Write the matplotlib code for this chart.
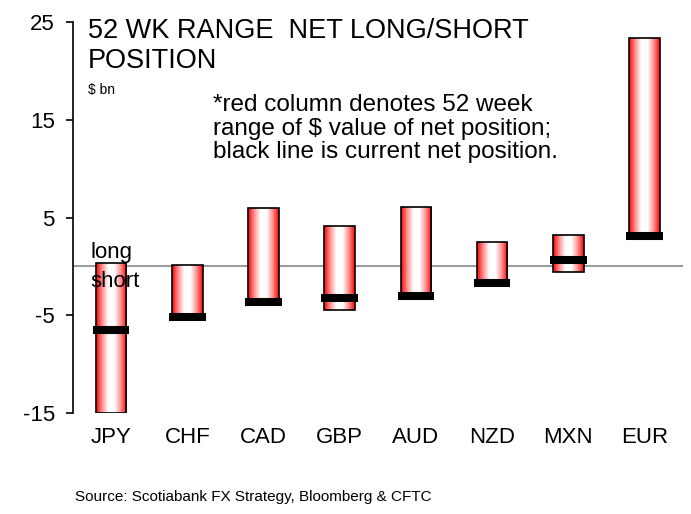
import matplotlib
matplotlib.use('Agg')
import matplotlib.pyplot as plt
import numpy as np
from matplotlib.colors import LinearSegmentedColormap

plt.rcParams['font.family'] = ['Liberation Sans', 'DejaVu Sans']

# data ($ bn)
currencies = ['JPY', 'CHF', 'CAD', 'GBP', 'AUD', 'NZD', 'MXN', 'EUR']
range_high = [0.4, 0.1, 6.0, 4.1, 6.1, 2.5, 3.2, 23.4]
range_low = [-15.0, -5.3, -3.8, -4.5, -3.1, -1.7, -0.6, 3.1]
current = [-6.5, -5.2, -3.6, -3.2, -3.0, -1.7, 0.7, 3.1]

fig = plt.figure(figsize=(6.91, 5.14), dpi=100)
ax = fig.add_axes([0.1056, 0.1965, 0.8824, 0.7605])

x = np.arange(len(currencies))
width = 0.4

# red - white - red gradient for the range columns
cmap = LinearSegmentedColormap.from_list('rwr', ['#ff0000', '#ff9090', '#ffffff', '#ffffff',
                                                 '#ff9090', '#ff0000'])
grad = np.linspace(0, 1, 256).reshape(1, -1)

bars = ax.bar(x, np.array(range_high) - np.array(range_low), width, bottom=range_low,
              facecolor='none', edgecolor='black', linewidth=1.2, zorder=3)
for b in bars:
    x0, y0 = b.get_x(), b.get_y()
    im = ax.imshow(grad, cmap=cmap, aspect='auto', zorder=2,
                   extent=(x0, x0 + b.get_width(), y0, y0 + b.get_height()))
    im.set_clip_path(b)

# current net position
ax.hlines(current, x - 0.24, x + 0.24, colors='black', linewidth=5.8, zorder=4)

ax.axhline(0, color='#888888', linewidth=1.2, zorder=1)

ax.set_xlim(-0.5, len(currencies) - 0.5)
ax.set_ylim(-15, 25)
ax.set_yticks([-15, -5, 5, 15, 25])
ax.set_yticklabels(['-15', '-5', '5', '15', '25'])
ax.set_xticks(x)
ax.set_xticklabels(currencies)
ax.tick_params(axis='y', direction='out', length=5, width=1.2, labelsize=16, pad=8)
ax.tick_params(axis='x', length=0, labelsize=16, pad=10)
for s in ['top', 'right', 'bottom']:
    ax.spines[s].set_visible(False)
ax.spines['left'].set_linewidth(1.2)

ax.text(0.025, 1.01, '52 WK RANGE  NET LONG/SHORT\nPOSITION', transform=ax.transAxes,
        fontsize=19.5, va='top', ha='left', linespacing=1.2)
ax.text(0.025, 0.845, '$ bn', transform=ax.transAxes, fontsize=10, va='top', ha='left')
ax.text(0.229, 0.815, '*red column denotes 52 week\nrange of $ value of net position;\nblack line is current net position.',
        transform=ax.transAxes, fontsize=17.5, va='top', ha='left', linespacing=1.08)
ax.text(-0.27, 0.3, 'long', fontsize=16, va='bottom', ha='left', zorder=5)
ax.text(-0.27, -0.45, 'short', fontsize=16, va='top', ha='left', zorder=5)

fig.text(0.109, 0.025, 'Source: Scotiabank FX Strategy, Bloomberg & CFTC', fontsize=11)

fig.savefig('out.png', dpi=100)
